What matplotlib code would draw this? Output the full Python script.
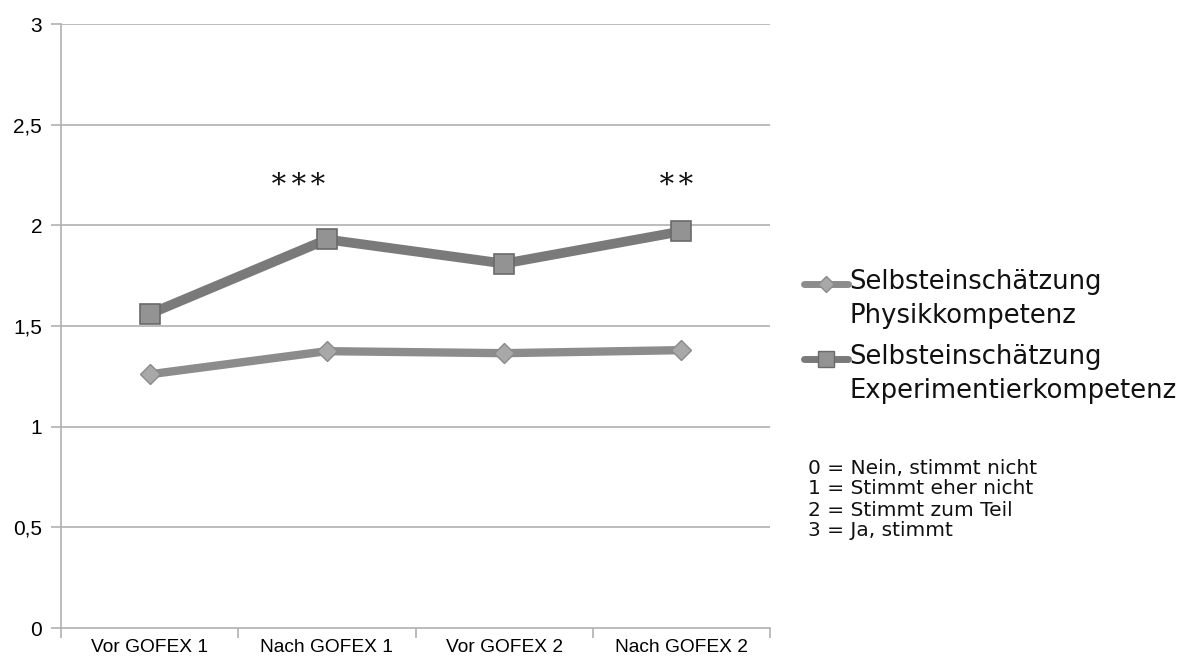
import matplotlib
matplotlib.use("Agg")
import matplotlib.pyplot as plt
from matplotlib.lines import Line2D
import numpy as np

categories = ["Vor GOFEX 1", "Nach GOFEX 1", "Vor GOFEX 2", "Nach GOFEX 2"]
physik = [1.26, 1.375, 1.365, 1.38]
experiment = [1.56, 1.93, 1.81, 1.97]
series_labels = ["Selbsteinschätzung\nPhysikkompetenz", "Selbsteinschätzung\nExperimentierkompetenz"]
significance = ["", "***", "", "**"]
yticks = [0, 0.5, 1, 1.5, 2, 2.5, 3]
ytick_labels = ["0", "0,5", "1", "1,5", "2", "2,5", "3"]
scale_notes = ["0 = Nein, stimmt nicht", "1 = Stimmt eher nicht", "2 = Stimmt zum Teil", "3 = Ja, stimmt"]

W, H = 1179, 666
fig = plt.figure(figsize=(W / 100, H / 100), dpi=100)
ax = fig.add_axes([61/W, 1-628/H, 709/W, 604/H])

x = np.arange(len(categories))
grid_c = "#b0b0b0"
for yv in yticks[1:]:
    ax.axhline(yv, color=grid_c, lw=1.2, zorder=0)

ax.plot(x, physik, color="#8c8c8c", lw=6, marker="D", ms=10.5, mfc="#a8a8a8",
        mec="#8a8a8a", mew=1, zorder=3, solid_capstyle="butt")
ax.plot(x, experiment, color="#7a7a7a", lw=7, marker="s", ms=14.5, mfc="#939393",
        mec="#6a6a6a", mew=1.2, zorder=4, solid_capstyle="butt")

# significance stars, each drawn separately with spacing
pitch_pts = 14.0
sig_x = [0, 0.84, 0, 2.97]
for xi, s in zip(sig_x, significance):
    n = len(s)
    for k, ch in enumerate(s):
        off = (k - (n - 1) / 2) * pitch_pts
        ax.annotate("∗", xy=(xi, 2.225), xytext=(off, 0), textcoords="offset points",
                    ha="center", va="center", fontsize=21, family="DejaVu Serif",
                    color="#111111")

ax.set_xlim(-0.5, 3.5)
ax.set_ylim(0, 3)
ax.set_yticks(yticks)
ax.set_yticklabels(ytick_labels, family="Liberation Sans", fontsize=15)
ax.set_xticks(x)
ax.set_xticklabels(categories, family="Liberation Sans", fontsize=13.8)
ax.set_xticks(np.arange(-0.5, 4.0, 1.0), minor=True)
ax.tick_params(axis="x", which="major", length=0, pad=8)
ax.tick_params(axis="x", which="minor", length=7, color=grid_c, width=1.2)
ax.tick_params(axis="y", length=7, color=grid_c, width=1.2, pad=6.5)

for side in ["top", "right"]:
    ax.spines[side].set_visible(False)
for side in ["left", "bottom"]:
    ax.spines[side].set_color(grid_c)
    ax.spines[side].set_linewidth(1.2)

# legend (manual)
def fx(px): return px / W
def fy(py): return 1 - py / H

leg_y = [284, 359]
styles = [dict(color="#8c8c8c", marker="D", ms=8, mfc="#a8a8a8", mec="#8a8a8a"),
          dict(color="#7a7a7a", marker="s", ms=11, mfc="#939393", mec="#6a6a6a")]
for yy, st, lab in zip(leg_y, styles, series_labels):
    ln = Line2D([fx(804), fx(848)], [fy(yy), fy(yy)], transform=fig.transFigure,
                color=st["color"], lw=5, solid_capstyle="round")
    fig.add_artist(ln)
    mk = Line2D([fx(826)], [fy(yy)], transform=fig.transFigure, ls="none",
                marker=st["marker"], ms=st["ms"], mfc=st["mfc"], mec=st["mec"])
    fig.add_artist(mk)
    fig.text(fx(849), fy(yy - 15), lab, ha="left", va="top", fontsize=18.6,
             family="DejaVu Sans", color="#111111", linespacing=1.38)

for i, note in enumerate(scale_notes):
    fig.text(fx(808), fy(468 + 21 * i), note, ha="left", va="center", fontsize=14.5,
             family="DejaVu Sans", color="#111111")

fig.savefig("out.png", dpi=100)
